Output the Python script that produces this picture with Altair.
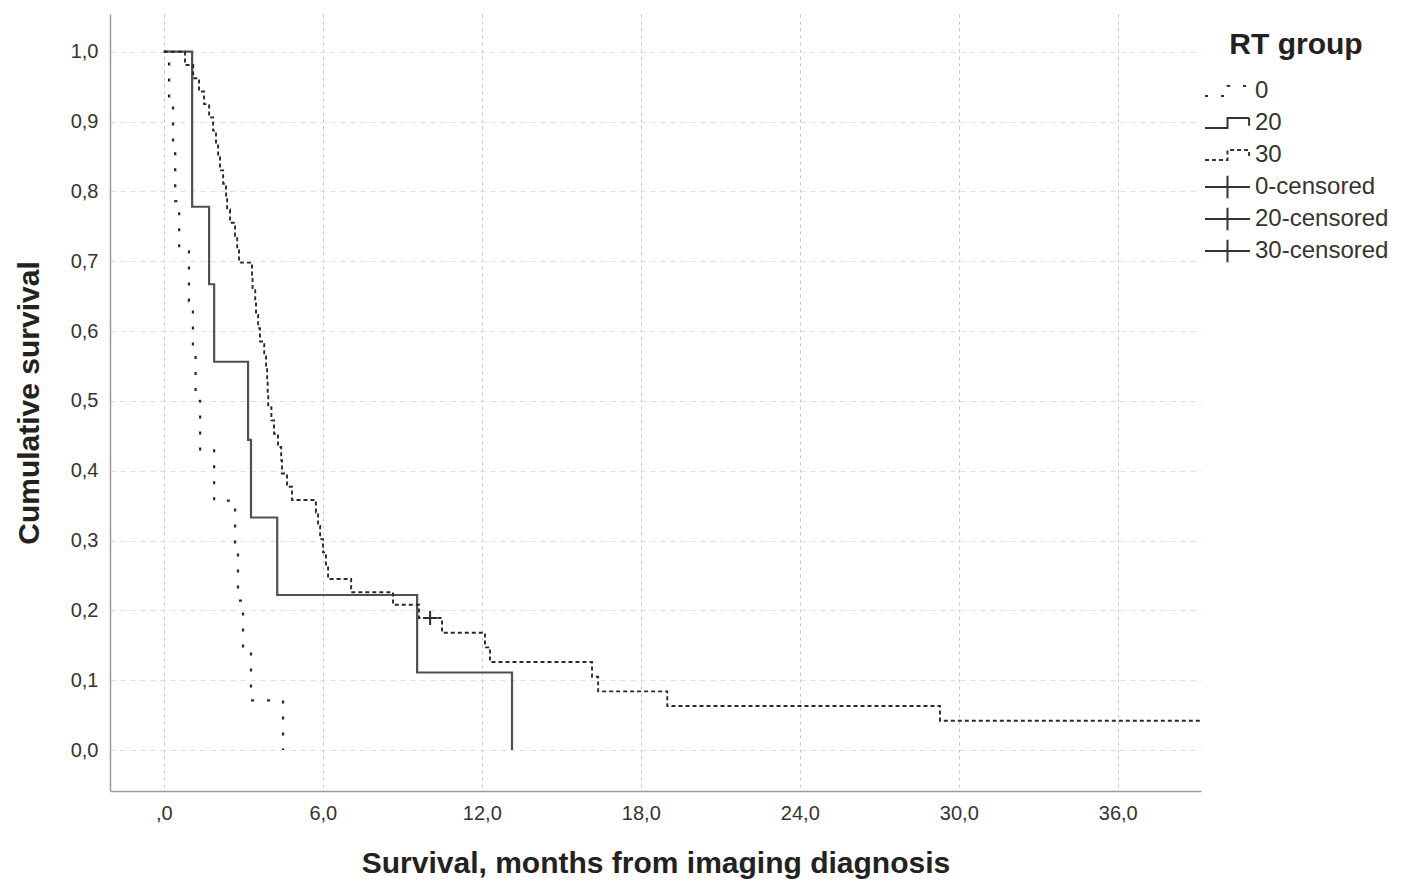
import altair as alt
import pandas as pd

# ---- data (Kaplan-Meier step curves) ----
g0_time = [0, 0.20, 0.35, 0.43, 0.58, 0.95, 1.10, 1.20, 1.37, 1.90, 2.69, 2.80, 2.99, 3.29, 4.50]
g0_surv = [1.0, 0.929, 0.857, 0.786, 0.714, 0.643, 0.571, 0.500, 0.429, 0.357, 0.286, 0.214, 0.143, 0.071, 0.0]

g20_time = [0, 1.07, 1.71, 1.90, 3.18, 3.29, 4.28, 9.56, 13.14]
g20_surv = [1.0, 0.778, 0.667, 0.556, 0.444, 0.333, 0.222, 0.111, 0.0]

g30_time = [0, 0.80, 1.11, 1.33, 1.52, 1.71, 1.86, 1.97, 2.05, 2.12, 2.24, 2.35, 2.39, 2.50, 2.69, 2.77, 2.84,
            3.33, 3.35, 3.45, 3.48, 3.56, 3.63, 3.79, 3.86, 3.90, 3.92, 3.94, 4.06, 4.16, 4.31, 4.43, 4.46, 4.65, 4.84,
            5.74, 5.82, 5.90, 6.01, 6.12, 6.20,
            7.07, 8.65, 9.63,
            10.50, 12.12, 12.31, 16.16, 16.39, 19.00, 29.29, 39.14]
g30_surv = [1.0, 0.981, 0.962, 0.943, 0.925, 0.906, 0.887, 0.868, 0.849, 0.830, 0.811, 0.792, 0.774, 0.755, 0.736, 0.717, 0.698,
            0.679, 0.660, 0.642, 0.623, 0.604, 0.585, 0.566, 0.547, 0.528, 0.509, 0.491, 0.472, 0.453, 0.434, 0.415, 0.396, 0.377, 0.358,
            0.340, 0.321, 0.302, 0.283, 0.264, 0.245,
            0.226, 0.208, 0.189,
            0.168, 0.147, 0.126, 0.105, 0.084, 0.063, 0.042, 0.042]

censor_time = [10.05]
censor_surv = [0.189]
censor_entry = ["30-censored"]

x_ticks = [0, 6, 12, 18, 24, 30, 36]
y_ticks = [0.0, 0.1, 0.2, 0.3, 0.4, 0.5, 0.6, 0.7, 0.8, 0.9, 1.0]

legend_entries = ["0", "20", "30", "0-censored", "20-censored", "30-censored"]

# ---- styling ----
FONT = "Liberation Sans"
STEP_PATH = "M-1,0.22H0V-0.22H0.96V0.12"
CROSS_PATH = "M-1,0H1M0,-0.5V0.5"
legend_paths = [STEP_PATH, STEP_PATH, STEP_PATH, CROSS_PATH, CROSS_PATH, CROSS_PATH]
legend_dashes = [[3, 13], [1, 0], [4, 3], [1, 0], [1, 0], [1, 0]]

x_scale = alt.Scale(domain=[-2.03, 39.14], nice=False, zero=False)
y_scale = alt.Scale(domain=[-0.0587, 1.054], nice=False, zero=False)

x_axis = alt.Axis(
    values=x_ticks,
    labelExpr="datum.value == 0 ? ',0' : replace(format(datum.value, '.1f'), '.', ',')",
    title="Survival, months from imaging diagnosis",
    grid=True, gridColor="#c4c4c4", gridDash=[3, 4], gridWidth=1,
    ticks=False, domainColor="#9a9a9a", domainWidth=1.5,
    labelFont=FONT, labelFontSize=20, labelColor="#333333", labelPadding=12, labelFlush=False,
    titleFont=FONT, titleFontSize=30, titleFontWeight="bold", titleColor="#222222", titlePadding=25,
)
y_axis = alt.Axis(
    values=y_ticks,
    labelExpr="replace(format(datum.value, '.1f'), '.', ',')",
    title="Cumulative survival",
    grid=True, gridColor="#e6dfc0", gridDash=[5, 5], gridWidth=1,
    ticks=False, domainColor="#9a9a9a", domainWidth=1.5,
    labelFont=FONT, labelFontSize=20, labelColor="#333333", labelPadding=12,
    titleFont=FONT, titleFontSize=30, titleFontWeight="bold", titleColor="#222222", titlePadding=26,
)

def curve(t, s, g):
    return pd.DataFrame({"time": t, "surv": s, "group": [g] * len(t)})

def enc(ch):
    return ch.encode(
        x=alt.X("time:Q", scale=x_scale, axis=x_axis),
        y=alt.Y("surv:Q", scale=y_scale, axis=y_axis),
    )

line0 = enc(alt.Chart(curve(g0_time, g0_surv, "0")).mark_line(
    interpolate="step-after", strokeDash=[3, 13], strokeWidth=2.3, color="#2a2a2a", clip=True))
line20 = enc(alt.Chart(curve(g20_time, g20_surv, "20")).mark_line(
    interpolate="step-after", strokeWidth=2.2, color="#505050", clip=True))
line30 = enc(alt.Chart(curve(g30_time, g30_surv, "30")).mark_line(
    interpolate="step-after", strokeDash=[4, 3], strokeWidth=1.9, color="#2a2a2a", clip=True))

censor_df = pd.DataFrame({"time": censor_time, "surv": censor_surv, "entry": censor_entry})
censor = enc(alt.Chart(censor_df).mark_point(
    shape="M-1,0H1M0,-1V1", size=196, strokeWidth=2, color="#2a2a2a", filled=False, opacity=1))

leg = alt.Legend(
    orient="none", legendX=1094, legendY=16, padding=0,
    title="RT group", titleFont=FONT, titleFontSize=30, titleFontWeight="bold", titleColor="#222222",
    titleAnchor="middle", titlePadding=15,
    labelFont=FONT, labelFontSize=24, labelColor="#333333", labelOffset=4,
    symbolSize=2025, symbolStrokeWidth=2, symbolStrokeColor="#333333", symbolFillColor="transparent",
    symbolOpacity=1, clipHeight=32, rowPadding=0,
)
legend_layer = alt.Chart(censor_df).mark_point(
    opacity=0, filled=False, size=2025, strokeWidth=2, color="#333333").encode(
    x=alt.X("time:Q", scale=x_scale, axis=x_axis),
    y=alt.Y("surv:Q", scale=y_scale, axis=y_axis),
    shape=alt.Shape("entry:N", scale=alt.Scale(domain=legend_entries, range=legend_paths), legend=leg),
    strokeDash=alt.StrokeDash("entry:N", scale=alt.Scale(domain=legend_entries, range=legend_dashes), legend=leg),
)

chart = alt.layer(line0, line20, line30, censor, legend_layer).properties(
    width=1091, height=777,
    autosize=alt.AutoSizeParams(type="none"),
    padding={"left": 102, "top": 6, "right": 192, "bottom": 90},
    background="white",
).configure_view(stroke=None)

chart.save("out.html", embed_options={"renderer": "svg", "actions": False})
